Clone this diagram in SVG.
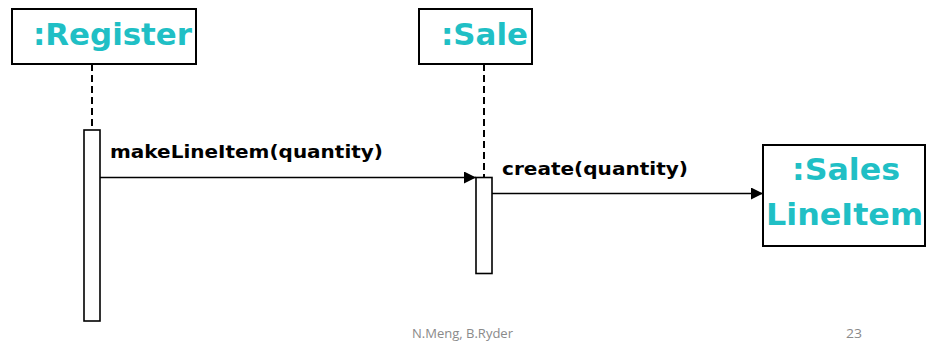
<svg xmlns="http://www.w3.org/2000/svg" width="932" height="360" viewBox="0 0 932 360">
<defs>
<style>
.obj{fill:#fff;stroke:#000;stroke-width:2}
.act{fill:#fff;stroke:#000;stroke-width:1.6}
.life{stroke:#000;stroke-width:2;stroke-dasharray:7 4;fill:none}
.msg{stroke:#000;stroke-width:1.6;fill:none}
.name{font-family:"DejaVu Sans",sans-serif;font-weight:bold;font-size:30px;fill:#20BFC5}
.lbl{font-family:"DejaVu Sans",sans-serif;font-weight:bold;font-size:17px;fill:#000}
.foot{font-family:"Open Sans","Liberation Sans",sans-serif;font-size:13px;fill:#8a8a8a}
</style>
<marker id="arr" viewBox="0 0 10 10" refX="10" refY="5" markerWidth="14" markerHeight="12" markerUnits="userSpaceOnUse" orient="auto">
<path d="M0,0 L10,5 L0,10 z" fill="#000"/>
</marker>
</defs>
<rect width="932" height="360" fill="#fff"/>
<g id="connectors">
<line class="life" x1="92" y1="64" x2="92" y2="130"/>
<line class="life" x1="484" y1="64" x2="484" y2="177"/>
<line class="msg" x1="100" y1="177.5" x2="476" y2="177.5" marker-end="url(#arr)"/>
<text class="lbl" x="110" y="158" textLength="273" lengthAdjust="spacingAndGlyphs">makeLineItem(quantity)</text>
<line class="msg" x1="492" y1="193.5" x2="763" y2="193.5" marker-end="url(#arr)"/>
<text class="lbl" x="502" y="175" textLength="186" lengthAdjust="spacingAndGlyphs">create(quantity)</text>
</g>
<g id="register">
<rect class="obj" x="12" y="9" width="184" height="55"/>
<text class="name" x="33" y="45" textLength="159" lengthAdjust="spacingAndGlyphs">:Register</text>
<rect class="act" x="84" y="130" width="16" height="191"/>
</g>
<g id="sale">
<rect class="obj" x="419" y="9" width="113" height="55"/>
<text class="name" x="441" y="45" textLength="87" lengthAdjust="spacingAndGlyphs">:Sale</text>
<rect class="act" x="476" y="177.5" width="16" height="96"/>
</g>
<g id="salesLineItem">
<rect class="obj" x="763" y="145" width="162" height="101"/>
<text class="name" x="792" y="180" textLength="108" lengthAdjust="spacingAndGlyphs">:Sales</text>
<text class="name" x="766" y="225" textLength="157" lengthAdjust="spacingAndGlyphs">LineItem</text>
</g>
<g id="footer">
<text class="foot" x="412" y="338" textLength="101" lengthAdjust="spacingAndGlyphs">N.Meng, B.Ryder</text>
<text class="foot" x="846" y="338" textLength="16" lengthAdjust="spacingAndGlyphs">23</text>
</g>
</svg>
